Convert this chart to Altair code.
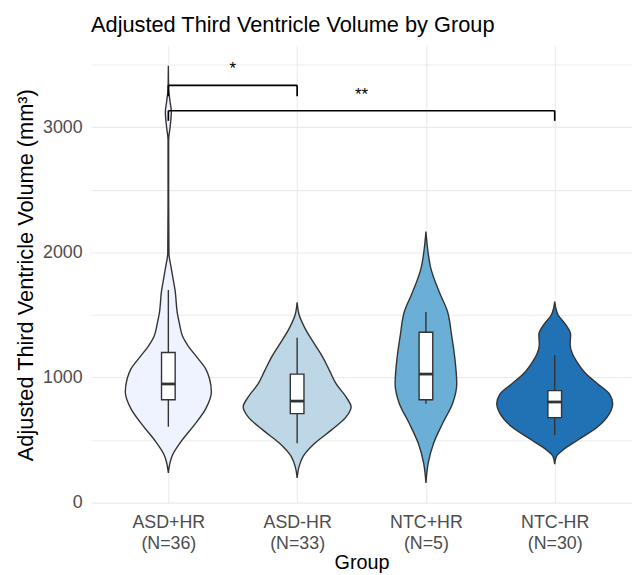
import altair as alt
import pandas as pd

# ---------------- data ----------------
groups = ["ASD+HR", "ASD-HR", "NTC+HR", "NTC-HR"]
group_n = [36, 33, 5, 30]
fill_colors = ["#eff3ff", "#bdd7e7", "#6baed6", "#2171b5"]

# violin outlines: volume (mm3) and relative density (half-width reading)
asd_hr_vol = [237, 329, 382, 487, 619, 751, 883, 988, 1067, 1172, 1251, 1330, 1436, 1501, 1699, 1778, 1883, 1991, 2410, 2897, 3002, 3121, 3200, 3305, 3490]
asd_hr_den = [0, 2, 4.3, 12.7, 26, 37.7, 43.3, 41.5, 37.7, 27.7, 20, 14.3, 11, 9.3, 6.7, 5, 2.7, 0.6, 0.3, 0.3, 1.8, 3, 1.8, 0.3, 0]

asd_nohr_vol = [198, 290, 369, 474, 579, 685, 764, 843, 948, 1053, 1159, 1264, 1396, 1501, 1601]
asd_nohr_den = [0, 2, 6, 17.7, 34.3, 49.3, 54.3, 49.3, 39.3, 32.7, 26, 17.7, 7.7, 2, 0]

ntc_hr_vol = [158, 316, 474, 632, 790, 948, 1159, 1343, 1527, 1685, 1870, 2028, 2165]
ntc_hr_den = [0, 2.3, 7.7, 16.7, 26.7, 31, 29, 25.7, 21.7, 13.3, 5, 1.7, 0]

ntc_nohr_vol = [308, 369, 421, 500, 606, 711, 790, 869, 948, 1027, 1132, 1185, 1264, 1343, 1422, 1501, 1606]
ntc_nohr_den = [0, 1.7, 8.3, 23.3, 43.3, 55, 58.3, 55, 43.3, 31.7, 21.7, 18, 15.5, 16, 11, 3.3, 0]

# box plot statistics
box_q1 = [822, 711, 822, 679]
box_med = [948, 811, 1027, 804]
box_q3 = [1199, 1027, 1361, 895]
whisk_lo = [606, 474, 790, 540]
whisk_hi = [1699, 1317, 1522, 1177]

# significance brackets (group positions 1..4)
bracket_from = [1, 1]
bracket_to = [2, 4]
bracket_y = [3334, 3131]
bracket_tip = [3247, 3050]
bracket_label = ["*", "**"]

# ---------------- tables built from the arrays ----------------
vols = [asd_hr_vol, asd_nohr_vol, ntc_hr_vol, ntc_nohr_vol]
dens = [asd_hr_den, asd_nohr_den, ntc_hr_den, ntc_nohr_den]
rows = []
for i, g in enumerate(groups):
    for v, d in zip(vols[i], dens[i]):
        rows.append({"group": g, "pos": i + 1, "vol": v, "den": d})
violin_df = pd.DataFrame(rows)

box_df = pd.DataFrame({
    "group": groups, "pos": list(range(1, len(groups) + 1)),
    "q1": box_q1, "med": box_med, "q3": box_q3, "lo": whisk_lo, "hi": whisk_hi,
})

seg_rows = []
for a, b, y, t in zip(bracket_from, bracket_to, bracket_y, bracket_tip):
    seg_rows.append({"xa": a, "xb": b, "ya": y, "yb": y})
    seg_rows.append({"xa": a, "xb": a, "ya": y, "yb": t})
    seg_rows.append({"xa": b, "xb": b, "ya": y, "yb": t})
seg_df = pd.DataFrame(seg_rows)
lab_df = pd.DataFrame({"xa": bracket_from, "xb": bracket_to, "y": bracket_y, "label": bracket_label})

# ---------------- scales / axes ----------------
FONT = "Liberation Sans"
label_expr = "[" + ",".join(f"['{g}','(N={n})']" for g, n in zip(groups, group_n)) + "][round(datum.value)-1]"

x_scale = alt.Scale(domain=[0.4, 4.6], nice=False, zero=False)
x_axis = alt.Axis(values=[1, 2, 3, 4], labelExpr=label_expr, title="Group",
                  grid=True, ticks=False, tickSize=0, domain=False,
                  labelPadding=10, labelLineHeight=21, titlePadding=1, titleFontSize=20)
y_scale = alt.Scale(domain=[-8, 3650], nice=False, zero=False)
y_axis = alt.Axis(values=list(range(0, 3501, 500)), format="d",
                  labelExpr="datum.value % 1000 === 0 ? datum.label : ''",
                  title="Adjusted Third Ventricle Volume (mm³)",
                  grid=True, ticks=False, tickSize=0, domain=False,
                  labelPadding=9, titlePadding=5)

color_scale = alt.Scale(domain=groups, range=fill_colors)

violin = alt.Chart(violin_df).transform_joinaggregate(
    maxd="max(den)"
).transform_calculate(
    left="datum.pos - datum.den / datum.maxd * 0.45",
    right="datum.pos + datum.den / datum.maxd * 0.45",
).mark_area(orient="horizontal", interpolate="monotone", stroke="#333333", strokeWidth=1.4).encode(
    y=alt.Y("vol:Q", scale=y_scale, axis=y_axis),
    x=alt.X("left:Q", scale=x_scale, axis=x_axis),
    x2="right:Q",
    fill=alt.Fill("group:N", scale=color_scale, legend=None),
    detail="group:N",
)

box_base = alt.Chart(box_df).transform_calculate(
    bl="datum.pos - 0.053", br="datum.pos + 0.053"
)
whisker = box_base.mark_rule(color="#333333", strokeWidth=1.4).encode(
    x=alt.X("pos:Q", scale=x_scale, axis=x_axis),
    y=alt.Y("lo:Q", scale=y_scale, axis=y_axis),
    y2="hi:Q",
)
box = box_base.mark_rect(fill="white", stroke="#333333", strokeWidth=1.4).encode(
    x=alt.X("bl:Q", scale=x_scale, axis=x_axis),
    x2="br:Q",
    y=alt.Y("q1:Q", scale=y_scale, axis=y_axis),
    y2="q3:Q",
)
median = box_base.mark_rule(color="#333333", strokeWidth=2.8).encode(
    x=alt.X("bl:Q", scale=x_scale, axis=x_axis),
    x2="br:Q",
    y=alt.Y("med:Q", scale=y_scale, axis=y_axis),
)

brackets = alt.Chart(seg_df).mark_rule(color="black", strokeWidth=1.7).encode(
    x=alt.X("xa:Q", scale=x_scale, axis=x_axis),
    x2="xb:Q",
    y=alt.Y("ya:Q", scale=y_scale, axis=y_axis),
    y2="yb:Q",
)
labels = alt.Chart(lab_df).transform_calculate(
    xm="(datum.xa + datum.xb) / 2"
).mark_text(font=FONT, fontSize=17, color="black", baseline="alphabetic", dy=-11).encode(
    x=alt.X("xm:Q", scale=x_scale, axis=x_axis),
    y=alt.Y("y:Q", scale=y_scale, axis=y_axis),
    text="label:N",
)

chart = alt.layer(violin, whisker, box, median, brackets, labels).properties(
    width=547, height=463,
    padding={"left": 84, "top": 35, "right": 0, "bottom": 70},
    autosize=alt.AutoSizeParams(type="none"),
    title=alt.TitleParams("Adjusted Third Ventricle Volume by Group", anchor="start", frame="group",
                          font=FONT, fontSize=22, fontWeight="normal", color="black", offset=9),
).configure_view(stroke=None).configure_axis(
    labelFont=FONT, labelFontSize=18, labelColor="#4d4d4d",
    titleFont=FONT, titleFontSize=22, titleFontWeight="normal", titleColor="black",
    gridColor="#ebebeb", gridWidth=1.1,
)

chart.save("out.html", embed_options={"renderer": "svg", "actions": False})
